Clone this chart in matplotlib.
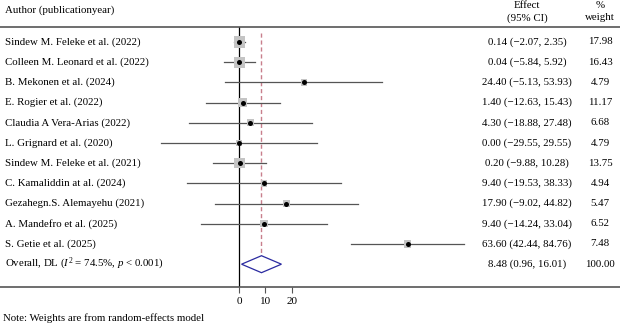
import matplotlib
matplotlib.use("Agg")
import matplotlib.pyplot as plt
from matplotlib.patches import Polygon
import numpy as np

plt.rcParams['font.family'] = ['Liberation Serif', 'DejaVu Serif']
plt.rcParams['mathtext.fontset'] = 'custom'
plt.rcParams['mathtext.rm'] = 'Liberation Serif'
plt.rcParams['mathtext.it'] = 'Liberation Serif:italic'

studies = ["Sindew M. Feleke et al. (2022)", "Colleen M. Leonard et al. (2022)",
           "B. Mekonen et al. (2024)", "E. Rogier et al. (2022)",
           "Claudia A Vera-Arias (2022)", "L. Grignard et al. (2020)",
           "Sindew M. Feleke et al. (2021)", "C. Kamaliddin at al. (2024)",
           "Gezahegn.S. Alemayehu (2021)", "A. Mandefro et al. (2025)",
           "S. Getie et al. (2025)"]
effect = [0.14, 0.04, 24.40, 1.40, 4.30, 0.00, 0.20, 9.40, 17.90, 9.40, 63.60]
lower = [-2.07, -5.84, -5.13, -12.63, -18.88, -29.55, -9.88, -19.53, -9.02, -14.24, 42.44]
upper = [2.35, 5.92, 53.93, 15.43, 27.48, 29.55, 10.28, 38.33, 44.82, 33.04, 84.76]
weight = [17.98, 16.43, 4.79, 11.17, 6.68, 4.79, 13.75, 4.94, 5.47, 6.52, 7.48]
overall_label = r"Overall, DL ($\mathit{I}^2$ = 74.5%, $\mathit{p}$ < 0.001)"
overall = [8.48, 0.96, 16.01, 100.00]
xticks = [0, 10, 20]

W, H = 620, 324
fig = plt.figure(figsize=(W / 100, H / 100), dpi=100)
top_px, bot_px = 27, 287
ax = fig.add_axes([0, 1 - bot_px / H, 1, (bot_px - top_px) / H])
x0_px, scale = 239, 2.65
ax.set_xlim(-x0_px / scale, (W - x0_px) / scale)
row0, step = 42, 20.2
ax.set_ylim((bot_px - row0) / step, (top_px - row0) / step)

for s in ['left', 'right']:
    ax.spines[s].set_visible(False)
for s in ['top', 'bottom']:
    ax.spines[s].set_color('#555555')
    ax.spines[s].set_linewidth(1.2)
ax.set_yticks([])
ax.set_xticks(xticks)
ax.tick_params(axis='x', direction='out', length=4, width=0.8, color='#555555',
               labelsize=8, pad=3)

ax.axvline(0, color='black', lw=0.9, zorder=1)
n = len(studies)
ax.plot([overall[0], overall[0]], [-0.45, n + 0.4], ls=(0, (3, 2)), color='#c87f8c',
        lw=1.0, zorder=1)

ys = np.arange(n)
for y, e, lo, hi, w in zip(ys, effect, lower, upper, weight):
    ax.plot([lo, hi], [y, y], color='#555555', lw=0.9, zorder=2)
side_pt = (2.5 * np.sqrt(weight) + 0.8) * 0.72
ax.scatter(effect, ys, s=side_pt ** 2, marker='s', color='#c4c4c4',
           zorder=3, linewidths=0)
ax.scatter(effect, ys, s=13, marker='o', color='black', zorder=4, linewidths=0)

yo = n
diamond = Polygon([[overall[1], yo], [overall[0], yo - 0.42], [overall[2], yo],
                   [overall[0], yo + 0.42]], closed=True, facecolor='white',
                  edgecolor='#2a2aa0', lw=0.9, zorder=5)
ax.add_patch(diamond)

tr = ax.get_yaxis_transform()
fs = 7.8
col_eff = 527 / W
col_w = 600 / W


def fmt(v):
    return f"{v:.2f}".replace('-', '\u2212')


for y, name, e, lo, hi, w in zip(ys, studies, effect, lower, upper, weight):
    ax.text(5 / W, y, name, transform=tr, ha='left', va='center', fontsize=fs)
    ax.text(col_eff, y, f"{fmt(e)} ({fmt(lo)}, {fmt(hi)})", transform=tr,
            ha='center', va='center', fontsize=fs)
    ax.text(col_w, y, f"{w:.2f}", transform=tr, ha='center', va='center', fontsize=fs)

ax.text(5 / W, yo, overall_label, transform=tr, ha='left', va='center', fontsize=fs)
ax.text(col_eff, yo, f"{fmt(overall[0])} ({fmt(overall[1])}, {fmt(overall[2])})",
        transform=tr, ha='center', va='center', fontsize=fs)
ax.text(col_w, yo, f"{overall[3]:.2f}", transform=tr, ha='center', va='center', fontsize=fs)

fig.text(5 / W, 1 - 10 / H, "Author (publicationyear)", ha='left', va='center', fontsize=fs)
fig.text(col_eff, 1 - 5 / H, "Effect", ha='center', va='center', fontsize=fs)
fig.text(col_eff, 1 - 18 / H, "(95% CI)", ha='center', va='center', fontsize=fs)
fig.text(col_w, 1 - 5 / H, "%", ha='center', va='center', fontsize=fs)
fig.text(col_w, 1 - 18 / H, "weight", ha='center', va='center', fontsize=fs)
fig.text(3 / W, 1 - 318 / H, "Note: Weights are from random-effects model",
         ha='left', va='center', fontsize=fs)

fig.savefig("out.png", dpi=100)
